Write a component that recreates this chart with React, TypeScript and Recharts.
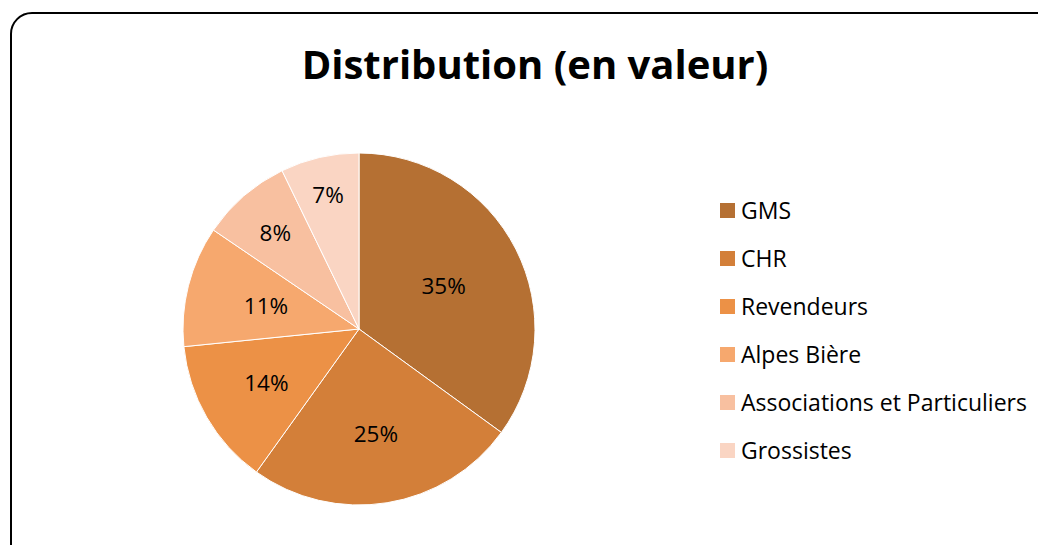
import React from "react";
import { PieChart, Pie, Cell } from "recharts";

const categories = ["GMS", "CHR", "Revendeurs", "Alpes Bière", "Associations et Particuliers", "Grossistes"];
const shares = [35, 24.9, 13.5, 11.1, 8.3, 7.2];
const colors = ["#B57033", "#D37F39", "#EC9146", "#F6A86E", "#F8C0A0", "#FAD5C3"];
const labelRadius = [95, 106, 107, 96, 128, 138];

const data = categories.map((name, i) => ({ name, value: shares[i] }));
const FONT = "'Open Sans', sans-serif";
const RADIAN = Math.PI / 180;

const renderLabel = (props: any) => {
  const { cx, cy, midAngle, index, value } = props;
  const r = labelRadius[index];
  const x = cx + r * Math.cos(-midAngle * RADIAN);
  const y = cy + r * Math.sin(-midAngle * RADIAN);
  return (
    <text x={x} y={y} fill="#000" textAnchor="middle" dominantBaseline="central" fontSize={22.5} fontFamily={FONT}>
      {`${Math.round(value)}%`}
    </text>
  );
};

export default function App() {
  return (
    <div style={{ margin: -8, width: 1046, height: 553, position: "relative", overflow: "hidden", background: "#fff" }}>
      <div style={{ position: "absolute", left: 10, top: 12, width: 1060, height: 570, border: "2px solid #000", borderRadius: 22, boxSizing: "border-box" }} />
      <div style={{ position: "absolute", left: 0, top: 36, width: 1070, textAlign: "center", fontFamily: FONT, fontWeight: 700, fontSize: 40, lineHeight: "56px", color: "#000" }}>
        Distribution (en valeur)
      </div>
      <div style={{ position: "absolute", left: 0, top: 0 }}>
        <PieChart width={1046} height={553} margin={{ top: 0, right: 0, bottom: 0, left: 0 }}>
          <Pie
            data={data}
            dataKey="value"
            nameKey="name"
            cx={359}
            cy={329}
            outerRadius={176}
            startAngle={90}
            endAngle={-270}
            stroke="#fff"
            strokeWidth={1}
            label={renderLabel}
            labelLine={false}
            isAnimationActive={false}
          >
            {data.map((d, i) => (
              <Cell key={d.name} fill={colors[i]} />
            ))}
          </Pie>
        </PieChart>
      </div>
      <div style={{ position: "absolute", left: 720, top: 186, fontFamily: FONT }}>
        {categories.map((name, i) => (
          <div key={name} style={{ display: "flex", alignItems: "center", height: 48 }}>
            <span style={{ display: "inline-block", width: 15, height: 15, background: colors[i], marginRight: 6 }} />
            <span style={{ fontSize: 23, color: "#000", whiteSpace: "nowrap" }}>{name}</span>
          </div>
        ))}
      </div>
    </div>
  );
}
